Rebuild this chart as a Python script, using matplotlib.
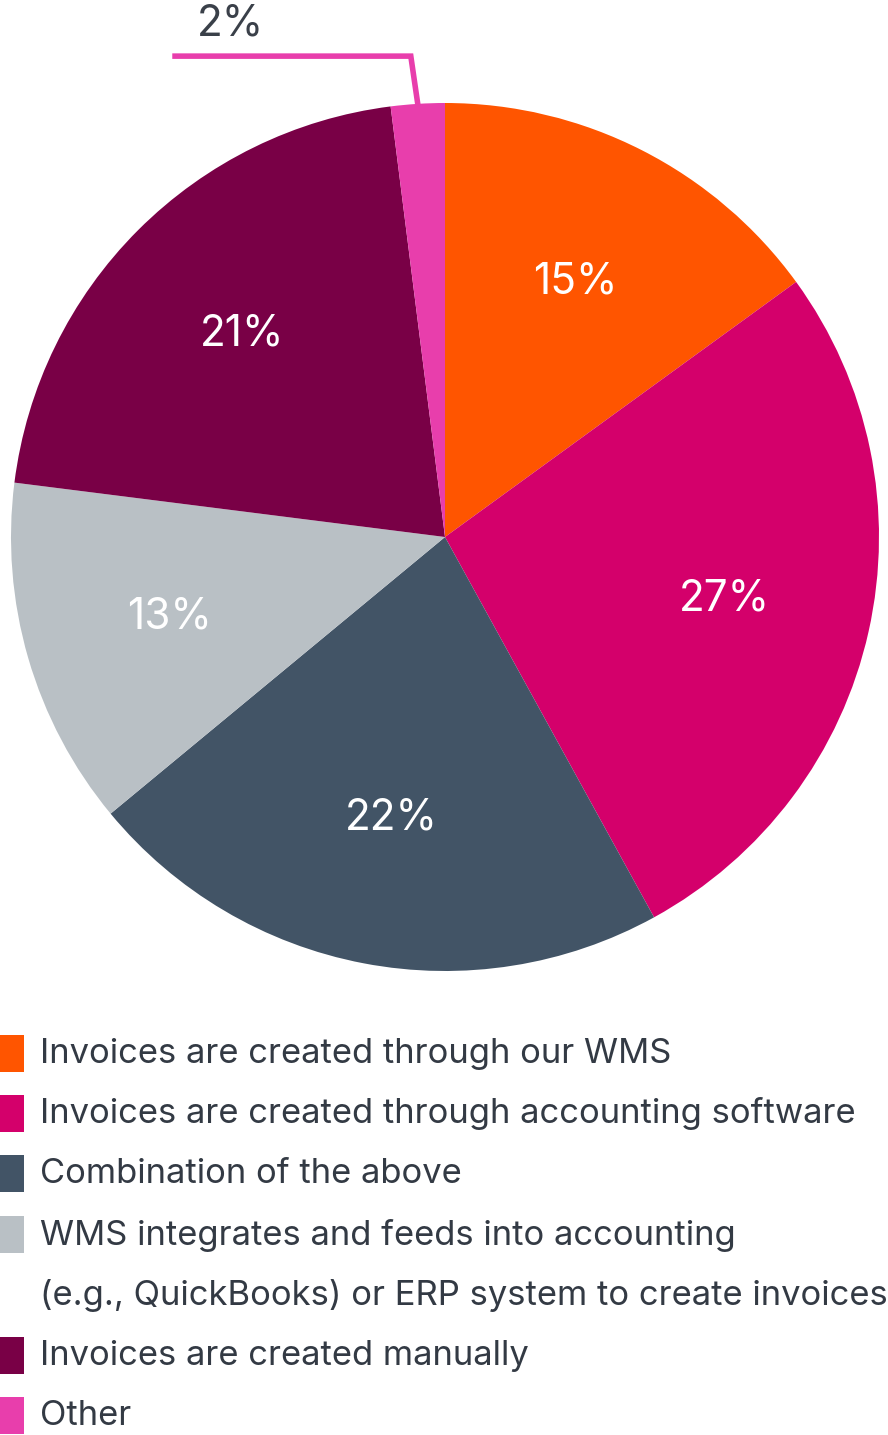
import matplotlib.pyplot as plt
import numpy as np
from matplotlib.patches import Rectangle

plt.rcParams['font.family'] = ['Inter', 'DejaVu Sans']

# Invoicing methods survey
labels = [
    'Invoices are created through our WMS',
    'Invoices are created through accounting software',
    'Combination of the above',
    'WMS integrates and feeds into accounting\n(e.g., QuickBooks) or ERP system to create invoices',
    'Invoices are created manually',
    'Other',
]
shares = [15, 27, 22, 13, 21, 2]
colors = ['#FF5500', '#D4006B', '#425466', '#B9C0C5', '#790046', '#E83EAC']

W, H = 888, 1435
fig = plt.figure(figsize=(W / 100, H / 100), dpi=100)

def fx(x):
    return x / W

def fy(y):
    return 1 - y / H

# pie area in pixels
cx, cy, r = 445, 537, 434
ax = fig.add_axes([fx(cx - r), fy(cy + r), 2 * r / W, 2 * r / H])
wedges, texts, autotexts = ax.pie(
    shares, colors=colors, startangle=90, counterclock=False,
    autopct='%d%%', pctdistance=0.66, radius=1,
    wedgeprops=dict(linewidth=0),
    textprops=dict(color='white', fontsize=30.5),
)
ax.set_xlim(-1, 1)
ax.set_ylim(-1, 1)
ax.set_aspect('equal')
ax.axis('off')

# small "Other" slice gets an external label with a leader line
autotexts[-1].set_visible(False)
w = wedges[-1]
mid = np.deg2rad((w.theta1 + w.theta2) / 2)
x0, y0 = np.cos(mid), np.sin(mid)
elbow_y = 1.108
line_x = [x0, x0 - 0.016, -0.622]
line_y = [y0, elbow_y, elbow_y]
ax.plot(line_x, line_y, color=colors[-1], lw=4, clip_on=False,
        solid_joinstyle='miter')
ax.text(-0.495, 1.182, f'{shares[-1]}%', color='#3A4049', fontsize=30.5,
        ha='center', va='center', clip_on=False)

# legend
rows_y = [1054, 1114, 1174, 1235, 1356, 1416]
for lab, col, yy in zip(labels, colors, rows_y):
    fig.patches.append(Rectangle((fx(0), fy(yy + 18)), fx(24), 37 / H,
                                 transform=fig.transFigure, color=col,
                                 linewidth=0))
    parts = lab.split('\n')
    for i, p in enumerate(parts):
        fig.text(fx(40), fy(yy + i * 60), p, fontsize=24.9, color='#333A44',
                 ha='left', va='center')

fig.savefig('out.png', dpi=100, facecolor='white')
